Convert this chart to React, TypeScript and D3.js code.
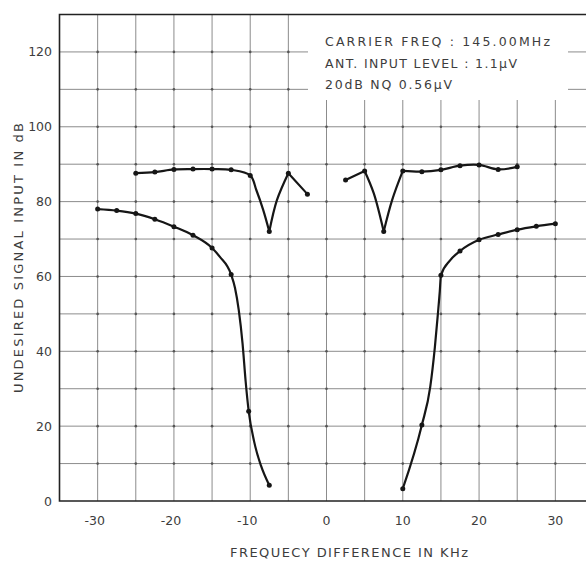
import React from 'react';
import * as d3 from 'd3';
import { useRef } from 'react';
import { useEffect } from 'react';

type Pt = [number, number];

// measured points, drawn as dots: [kHz, dB]
const upperLeft: Pt[] = [[-25, 87.6], [-22.5, 87.9], [-20, 88.6], [-17.5, 88.7], [-15, 88.7], [-12.5, 88.5], [-10, 87.0], [-7.5, 72.0], [-5, 87.6], [-2.5, 82.0]];
const upperRight: Pt[] = [[2.5, 85.8], [5, 88.2], [7.5, 72.0], [10, 88.2], [12.5, 88.0], [15, 88.5], [17.5, 89.6], [20, 89.8], [22.5, 88.6], [25, 89.3]];
const lowerLeft: Pt[] = [[-30, 78], [-27.5, 77.6], [-25, 76.8], [-22.5, 75.3], [-20, 73.3], [-17.5, 71], [-15, 67.6], [-12.5, 60.5], [-10.2, 24], [-7.5, 4.2]];
const lowerRight: Pt[] = [[10, 3.3], [12.5, 20.3], [15, 60.3], [17.5, 66.8], [20, 69.8], [22.5, 71.2], [25, 72.5], [27.5, 73.4], [30, 74.1]];

// points read along the hand drawn curve between the dots
const upperLeftTrace: Pt[] = [[-9.2, 83.1], [-8.3, 77.8], [-6.5, 80.4]];
const upperRightTrace: Pt[] = [[6.2, 82.2], [8.6, 80.4]];
const lowerLeftTrace: Pt[] = [[-14, 65.3], [-12, 57], [-11.5, 51], [-11.0, 42], [-10.6, 32], [-9.5, 16], [-8.6, 9.5]];
const lowerRightTrace: Pt[] = [[13.6, 30.5], [14.2, 41], [14.6, 50], [14.85, 56], [16.2, 64.3]];

// sharp corners of the upper curves
const cusps = [-7.5, -5, 5, 7.5, 10];

const xTicks = [-30, -20, -10, 0, 10, 20, 30];
const yTicks = [0, 20, 40, 60, 80, 100, 120];
const notes = ['CARRIER FREQ : 145.00MHz', 'ANT. INPUT LEVEL : 1.1\u03bcV', '20dB NQ 0.56\u03bcV'];

const W = 586;
const H = 561;

function Chart() {
  const root = useRef<HTMLDivElement>(null);

  useEffect(() => {
    const font = '"DejaVu Sans", sans-serif';
    const ink = '#3d3d3d';

    const x = d3.scaleLinear().domain([-35, 35]).range([59.5, 593.5]);
    const y = d3.scaleLinear().domain([0, 130]).range([501, 14.5]);

    const svg = d3
      .create('svg')
      .attr('width', W)
      .attr('height', H)
      .attr('viewBox', `0 0 ${W} ${H}`)
      .style('display', 'block')
      .style('background', '#fff');

    // graph paper
    const grid = svg.append('g').attr('stroke', '#8c8c8c').attr('stroke-width', 1);
    d3.range(-30, 36, 5).forEach(f => {
      grid.append('line')
        .attr('x1', x(f)).attr('x2', x(f))
        .attr('y1', y(130)).attr('y2', y(0));
    });
    d3.range(10, 131, 10).forEach(v => {
      grid.append('line')
        .attr('x1', x(-35)).attr('x2', W)
        .attr('y1', y(v)).attr('y2', y(v));
    });
    const knots = svg.append('g').attr('fill', '#555');
    d3.range(-30, 36, 5).forEach(f => {
      d3.range(10, 130, 10).forEach(v => {
        knots.append('circle').attr('cx', x(f)).attr('cy', y(v)).attr('r', 1.3);
      });
    });

    // white patch behind the notes
    svg.append('rect')
      .attr('x', 308).attr('y', y(130))
      .attr('width', 260).attr('height', 100 - y(130))
      .attr('fill', '#fff');

    // frame
    svg.append('path')
      .attr('d', `M${W},${y(130)}H${x(-35)}V${y(0)}H${W}`)
      .attr('stroke', '#222')
      .attr('stroke-width', 1.6)
      .attr('fill', 'none');

    // ticks
    svg.append('g')
      .selectAll('text')
      .data(yTicks)
      .join('text')
      .attr('x', 52)
      .attr('y', d => y(d) + 4.5)
      .attr('text-anchor', 'end')
      .attr('font-family', font)
      .attr('font-size', 12.5)
      .attr('fill', ink)
      .text(d => String(d));

    svg.append('g')
      .selectAll('text')
      .data(xTicks)
      .join('text')
      .attr('x', d => x(d) - (d < 0 ? 3 : 0))
      .attr('y', 525)
      .attr('text-anchor', 'middle')
      .attr('font-family', font)
      .attr('font-size', 12.5)
      .attr('fill', ink)
      .text(d => String(d));

    // titles
    svg.append('text')
      .attr('x', 230)
      .attr('y', 557)
      .attr('font-family', font)
      .attr('font-size', 13)
      .attr('fill', ink)
      .attr('textLength', 238)
      .attr('lengthAdjust', 'spacing')
      .text('FREQUECY DIFFERENCE IN KHz');

    svg.append('text')
      .attr('transform', 'translate(23,393) rotate(-90)')
      .attr('font-family', font)
      .attr('font-size', 13)
      .attr('fill', ink)
      .attr('textLength', 270)
      .attr('lengthAdjust', 'spacing')
      .text('UNDESIRED SIGNAL INPUT IN dB');

    const lens = [225, 192, 127];
    svg.append('g')
      .selectAll('text')
      .data(notes)
      .join('text')
      .attr('x', 325)
      .attr('y', (_, i) => 46 + i * 21.5)
      .attr('font-family', font)
      .attr('font-size', 12.5)
      .attr('fill', ink)
      .attr('textLength', (_, i) => lens[i])
      .attr('lengthAdjust', 'spacing')
      .text(d => d);

    // curves
    const upperLine = d3
      .line<Pt>()
      .x(d => x(d[0]))
      .y(d => y(d[1]))
      .curve(d3.curveCatmullRom.alpha(0.5));

    const lowerLine = d3
      .line<Pt>()
      .x(d => x(d[0]))
      .y(d => y(d[1]))
      .curve(d3.curveMonotoneX);

    const pieces = (pts: Pt[]) => {
      const out: Pt[][] = [];
      let cur: Pt[] = [];
      pts.forEach(p => {
        cur.push(p);
        if (cusps.includes(p[0]) && cur.length > 1) {
          out.push(cur);
          cur = [p];
        }
      });
      if (cur.length > 1) out.push(cur);
      return out;
    };

    const curves = svg.append('g')
      .attr('fill', 'none')
      .attr('stroke', '#161616')
      .attr('stroke-width', 2.2)
      .attr('stroke-linejoin', 'round')
      .attr('stroke-linecap', 'round');

    const dots = svg.append('g').attr('fill', '#161616');

    const merge = (a: Pt[], b: Pt[]) => [...a, ...b].sort((p, q) => p[0] - q[0]);

    [merge(upperLeft, upperLeftTrace), merge(upperRight, upperRightTrace)].forEach(all => {
      pieces(all).forEach(p => {
        curves.append('path').attr('d', upperLine(p));
      });
    });
    [merge(lowerLeft, lowerLeftTrace), merge(lowerRight, lowerRightTrace)].forEach(all => {
      curves.append('path').attr('d', lowerLine(all));
    });

    [upperLeft, upperRight, lowerLeft, lowerRight].forEach(pts => {
      dots.selectAll(null)
        .data(pts)
        .join('circle')
        .attr('cx', d => x(d[0]))
        .attr('cy', d => y(d[1]))
        .attr('r', 2.5);
    });

    const rootNode = root.current;
    rootNode?.appendChild(svg.node() as Node);

    return () => {
      if (rootNode && rootNode.firstChild) {
        rootNode.removeChild(rootNode.firstChild);
      }
    };
  }, []);

  return <div ref={root} style={{ position: 'absolute', left: 0, top: 0 }} />;
}

export default function App() {
  return <Chart />;
}
